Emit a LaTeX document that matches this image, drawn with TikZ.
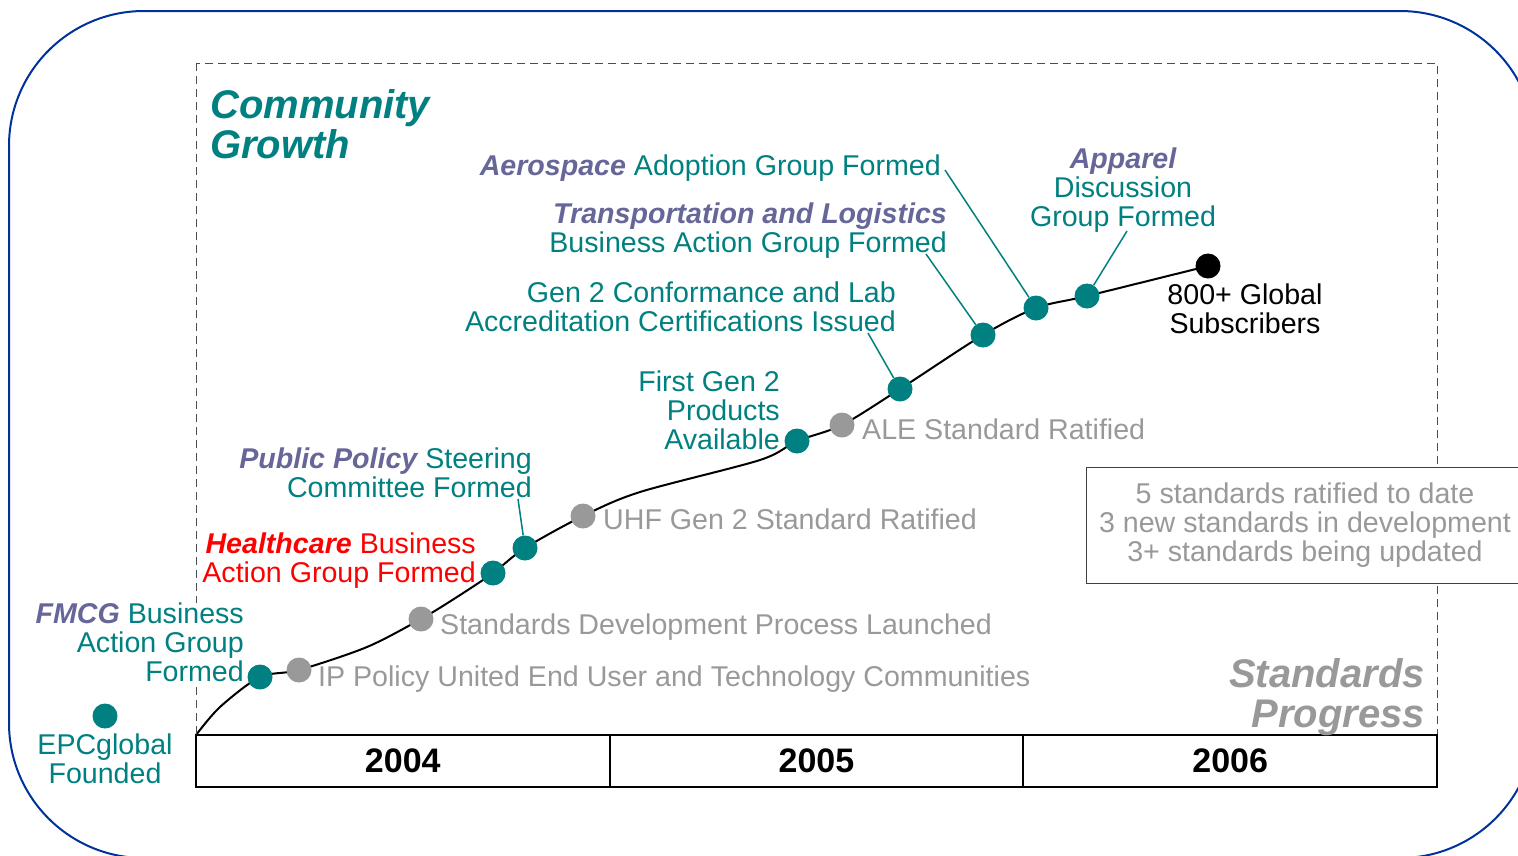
\documentclass[tikz,border=0pt]{standalone}
\usepackage{fontspec}
\setmainfont{Liberation Sans}
\usetikzlibrary{positioning,backgrounds}
\definecolor{epcteal}{RGB}{0,128,128}
\definecolor{epcpurple}{RGB}{102,102,153}
\definecolor{epcgray}{RGB}{153,153,153}
\definecolor{epcblue}{RGB}{0,51,153}
\newcommand{\lblsize}{\fontsize{28.6}{29}\selectfont}
\newcommand{\titlesize}{\fontsize{40}{40}\selectfont\bfseries\itshape}
\newcommand{\yearsize}{\fontsize{34}{36}\selectfont\bfseries}
\newcommand{\sector}[1]{{\color{epcpurple}\bfseries\itshape #1}}

\begin{document}
\begin{tikzpicture}[x=1pt,y=-1pt]
    \tikzstyle{event}=[circle,fill=epcteal,inner sep=0pt,minimum size=25pt]
    \tikzstyle{stdpt}=[circle,fill=epcgray,inner sep=0pt,minimum size=25pt]
    \tikzstyle{txt}=[inner sep=0pt,font=\lblsize,text=epcteal]
    \tikzstyle{gtxt}=[inner sep=0pt,font=\lblsize,text=epcgray]
    \tikzstyle{lead}=[epcteal,line width=1.5pt]
    \tikzstyle{yearbox}=[draw,line width=2pt,minimum width=413.7pt,minimum height=52pt,inner sep=0pt,font=\yearsize]

    \useasboundingbox (0,0) rectangle (1518,855);
    \clip (0,0) rectangle (1518,855);

    % frames
    \draw[epcblue,line width=2pt,rounded corners=135pt] (9,11) rectangle (1535,858);
    \draw[black!70,line width=1pt,dash pattern=on 8pt off 5pt] (196,63) rectangle (1437,735);

    % years
    \node (y2004)[yearbox] at (402.8,761) {2004};
    \node (y2005)[yearbox] at (816.5,761) {2005};
    \node (y2006)[yearbox] at (1230.2,761) {2006};

    % headings
    \node (growth)[inner sep=0pt,font=\titlesize,text=epcteal,align=left,anchor=north west] at (210,89) {Community\\Growth};
    \node (progress)[inner sep=0pt,font=\titlesize,text=epcgray,align=right,anchor=north east] at (1425,658) {Standards\\Progress};
    \node (summary)[draw=black!75,fill=white,line width=1pt,font=\lblsize,text=epcgray,align=center,minimum width=438pt,minimum height=116pt,inner sep=0pt] at (1305,525) {5 standards ratified to date\\3 new standards in development\\3+ standards being updated};

    % milestones
    \node (epc)[event] at (105,716) {};
    \node (fmcg)[event] at (260,677) {};
    \node (ip)[stdpt] at (299,670) {};
    \node (stddev)[stdpt] at (421,619) {};
    \node (health)[event] at (493,573) {};
    \node (pubpol)[event] at (525,548) {};
    \node (uhf)[stdpt] at (583,516) {};
    \node (prod)[event] at (797,441) {};
    \node (ale)[stdpt] at (842,425) {};
    \node (conf)[event] at (900,389) {};
    \node (trans)[event] at (983,335) {};
    \node (aero)[event] at (1036,308) {};
    \node (apparel)[event] at (1087,296) {};
    \node (subs)[circle,fill=black,inner sep=0pt,minimum size=25pt] at (1208,266) {};

    % labels
    \node (epclbl)[txt,align=center,anchor=north] at (105,734) {EPCglobal\\Founded};
    \node (fmcglbl)[txt,fill=white,align=right,anchor=north east] at (244,603) {\sector{FMCG} Business\\Action Group\\Formed};
    \node (iplbl)[gtxt,anchor=north west] at (318,666) {IP Policy United End User and Technology Communities};
    \node (stddevlbl)[gtxt,anchor=north west] at (440,613.5) {Standards Development Process Launched};
    \node (healthlbl)[txt,text=red,align=right,anchor=north east] at (476,532.5) {\textbf{\textit{Healthcare}} Business\\Action Group Formed};
    \node (pubpollbl)[txt,align=right,anchor=north east] at (532,447.5) {\sector{Public Policy} Steering\\Committee Formed};
    \node (uhflbl)[gtxt,anchor=north west] at (603,508.5) {UHF Gen 2 Standard Ratified};
    \node (prodlbl)[txt,align=right,anchor=north east] at (780,370.5) {First Gen 2\\Products\\Available};
    \node (alelbl)[gtxt,anchor=north west] at (862,418.5) {ALE Standard Ratified};
    \node (conflbl)[txt,align=right,anchor=north east] at (896,281.5) {Gen 2 Conformance and Lab\\Accreditation Certifications Issued};
    \node (translbl)[txt,align=right,anchor=north east] at (947,202.5) {\sector{Transportation and Logistics}\\Business Action Group Formed};
    \node (aerolbl)[txt,anchor=north east] at (941,155) {\sector{Aerospace} Adoption Group Formed};
    \node (apparellbl)[txt,align=center,anchor=north] at (1123,148) {\sector{Apparel}\\Discussion\\Group Formed};
    \node (subslbl)[txt,text=black,align=center,anchor=north] at (1245,284) {800+ Global\\Subscribers};

    % leader ends
    \coordinate (pubpoltip) at (518,499);
    \coordinate (conftip) at (868,333);
    \coordinate (transtip) at (926,254);
    \coordinate (aerotip) at (945,170);
    \coordinate (appareltip) at (1127,231);

    \begin{pgfonlayer}{background}
    \draw[line width=2pt] plot[smooth,tension=0.5] coordinates {(196,735) (220,707) (fmcg.center) (ip.center) (367,647) (stddev.center) (457,597) (health.center) (pubpol.center) (uhf.center) (640,492) (760,460) (prod.center) (ale.center) (conf.center) (trans.center) (aero.center) (apparel.center) (subs.center)};
    \draw[lead] (pubpoltip) -- (pubpol);
    \draw[lead] (conftip) -- (conf);
    \draw[lead] (transtip) -- (trans);
    \draw[lead] (aerotip) -- (aero);
    \draw[lead] (appareltip) -- (apparel);
    \end{pgfonlayer}
\end{tikzpicture}
\end{document}
